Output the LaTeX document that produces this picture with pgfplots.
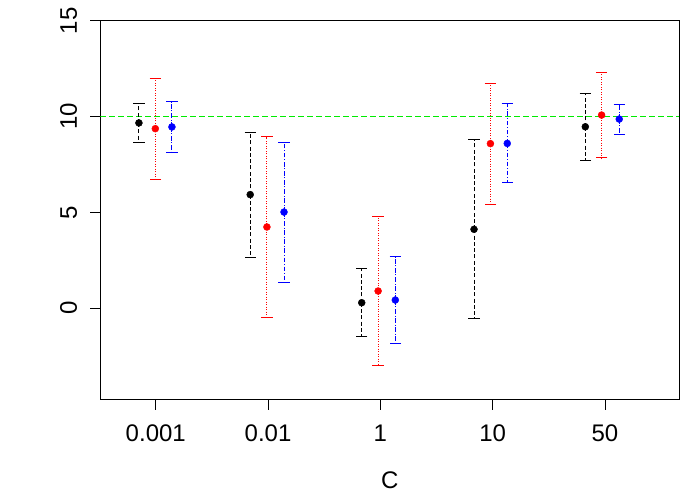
\documentclass[border=0pt]{standalone}
\usepackage{fontspec}
\setmainfont{Liberation Sans}
\usepackage{pgfplots}
\pgfplotsset{compat=1.18}
\definecolor{rred}{RGB}{255,0,0}
\definecolor{rblue}{RGB}{0,0,255}
\definecolor{rgreen}{RGB}{0,235,0}
\begin{document}
\begin{tikzpicture}[x=1pt,y=1pt]
\useasboundingbox (0,0) rectangle (700,500);
\begin{axis}[
  at={(100.4pt,100.5pt)}, anchor=south west,
  scale only axis, width=578.9pt, height=379.5pt,
  xmin=0.507, xmax=5.662, ymin=-4.76, ymax=15.04,
  axis line style={line width=0.9pt},
  every tick/.style={black, line width=0.9pt},
  tick align=outside, tick pos=left,
  major tick length=10pt,
  xtick={1,2,3,4,5},
  xticklabels={0.001,0.01,1,10,50},
  ytick={0,5,10,15},
  /pgf/number format/assume math mode=true,
  tick label style={font=\fontsize{24}{28}\selectfont},
  xticklabel style={anchor=north, inner sep=0pt, yshift=-15pt},
  yticklabel style={rotate=90, anchor=south, inner sep=0pt, yshift=13pt},
  xlabel={C},
  xlabel style={font=\fontsize{24}{28}\selectfont, at={(axis description cs:0.5,0)}, anchor=base, inner sep=0pt, yshift=-88.5pt},
]
\addplot[rgreen, line width=0.9pt, dash pattern=on 6pt off 3pt] coordinates {(0.507,10) (5.662,10)};
\addplot[only marks, black, mark=*, mark size=3.5pt, mark options={solid, fill=black, draw=black},
  error bars/.cd, y dir=both, y explicit,
  error bar style={black, line width=1pt, dash pattern=on 4pt off 2.3pt},
  error mark options={rotate=90, mark size=5.7pt, solid, line width=1pt, black}]
  table[x=x, y=y, y error=e] {
x y e
0.850 9.67 1.03
1.841 5.93 3.26
2.834 0.29 1.77
3.834 4.12 4.67
4.825 9.47 1.75
};
\addplot[only marks, rred, mark=*, mark size=3.5pt, mark options={solid, fill=rred, draw=rred},
  error bars/.cd, y dir=both, y explicit,
  error bar style={rred, line width=1pt, dash pattern=on 1pt off 1.5pt},
  error mark options={rotate=90, mark size=5.7pt, solid, line width=1pt, rred}]
  table[x=x, y=y, y error=e] {
x y e
0.996 9.37 2.64
1.990 4.24 4.70
2.980 0.90 3.89
3.980 8.59 3.16
4.970 10.08 2.23
};
\addplot[only marks, rblue, mark=*, mark size=3.5pt, mark options={solid, fill=rblue, draw=rblue},
  error bars/.cd, y dir=both, y explicit,
  error bar style={rblue, line width=1pt, dash pattern=on 4.7pt off 1.7pt on 1pt off 1.7pt},
  error mark options={rotate=90, mark size=5.7pt, solid, line width=1pt, rblue}]
  table[x=x, y=y, y error=e] {
x y e
1.144 9.46 1.31
2.142 5.02 3.65
3.133 0.43 2.25
4.130 8.60 2.06
5.127 9.87 0.78
};
\end{axis}
\end{tikzpicture}
\end{document}
